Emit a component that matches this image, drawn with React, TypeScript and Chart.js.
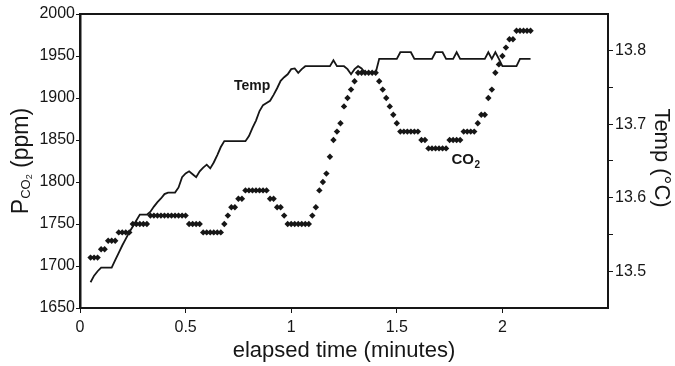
import React, { useEffect, useRef } from 'react';
import { Chart, registerables } from 'chart.js';

Chart.register(...registerables);

// sampling of the recording (one reading per second)
const SAMPLE_START_MIN = 0.05;
const SAMPLE_STEP_MIN = 1 / 60;

// CO2 partial pressure readings (ppm), left axis
const co2Ppm = [
  1710, 1710, 1710, 1720, 1720, 1730, 1730, 1730, 1740, 1740,
  1740, 1740, 1750, 1750, 1750, 1750, 1750, 1760, 1760, 1760,
  1760, 1760, 1760, 1760, 1760, 1760, 1760, 1760, 1750, 1750,
  1750, 1750, 1740, 1740, 1740, 1740, 1740, 1740, 1750, 1760,
  1770, 1770, 1780, 1780, 1790, 1790, 1790, 1790, 1790, 1790,
  1790, 1780, 1780, 1770, 1770, 1760, 1750, 1750, 1750, 1750,
  1750, 1750, 1750, 1760, 1770, 1790, 1800, 1810, 1830, 1850,
  1860, 1870, 1890, 1900, 1910, 1920, 1930, 1930, 1930, 1930,
  1930, 1930, 1920, 1910, 1900, 1890, 1880, 1870, 1860, 1860,
  1860, 1860, 1860, 1860, 1850, 1850, 1840, 1840, 1840, 1840,
  1840, 1840, 1850, 1850, 1850, 1850, 1860, 1860, 1860, 1860,
  1870, 1880, 1880, 1900, 1910, 1930, 1940, 1950, 1960, 1970,
  1970, 1980, 1980, 1980, 1980, 1980,
];

// temperature readings (deg C), right axis
const tempC = [
  13.485, 13.494, 13.5, 13.505, 13.505, 13.505, 13.505, 13.515, 13.525, 13.535,
  13.544, 13.553, 13.561, 13.569, 13.577, 13.577, 13.577, 13.581, 13.588, 13.594,
  13.599, 13.605, 13.607, 13.607, 13.607, 13.614, 13.628, 13.633, 13.636, 13.632,
  13.628, 13.636, 13.641, 13.645, 13.64, 13.648, 13.658, 13.669, 13.677, 13.677,
  13.677, 13.677, 13.677, 13.677, 13.677, 13.684, 13.695, 13.705, 13.718, 13.726,
  13.729, 13.732, 13.74, 13.749, 13.759, 13.764, 13.768, 13.775, 13.776, 13.77,
  13.775, 13.779, 13.779, 13.779, 13.779, 13.779, 13.779, 13.779, 13.779, 13.787,
  13.779, 13.779, 13.779, 13.775, 13.768, 13.775, 13.779, 13.776, 13.77, 13.77,
  13.77, 13.77, 13.789, 13.789, 13.789, 13.789, 13.789, 13.789, 13.798, 13.798,
  13.798, 13.798, 13.789, 13.789, 13.789, 13.789, 13.789, 13.789, 13.798, 13.798,
  13.798, 13.789, 13.789, 13.789, 13.798, 13.789, 13.789, 13.789, 13.789, 13.789,
  13.789, 13.789, 13.789, 13.798, 13.789, 13.798, 13.789, 13.779, 13.779, 13.779,
  13.779, 13.779, 13.789, 13.789, 13.789, 13.789,
];

const xTickValues = [0, 0.5, 1, 1.5, 2];
const leftTickValues = [1650, 1700, 1750, 1800, 1850, 1900, 1950, 2000];
const rightTickValues = [13.5, 13.55, 13.6, 13.65, 13.7, 13.75, 13.8];
const rightLabelledTicks = [13.5, 13.6, 13.7, 13.8];

const INK = '#161616';
const FONT = "'Liberation Sans', Arial, Helvetica, sans-serif";

const decorPlugin = {
  id: 'decor',
  afterDraw(chart: any) {
    const { ctx, chartArea: a, scales } = chart;
    ctx.save();
    // top frame line
    ctx.strokeStyle = INK;
    ctx.lineWidth = 2;
    ctx.beginPath();
    ctx.moveTo(a.left - 1, a.top);
    ctx.lineTo(a.right + 1, a.top);
    ctx.stroke();

    ctx.fillStyle = INK;
    // x-axis title
    ctx.font = `22px ${FONT}`;
    ctx.textAlign = 'center';
    ctx.textBaseline = 'middle';
    ctx.fillText('elapsed time (minutes)', (a.left + a.right) / 2, 351);

    // right axis title
    ctx.save();
    ctx.translate(661, (a.top + a.bottom) / 2 - 3);
    ctx.rotate(Math.PI / 2);
    ctx.font = `22px ${FONT}`;
    ctx.textAlign = 'center';
    ctx.textBaseline = 'middle';
    ctx.fillText('Temp (°C)', 0, 0);
    ctx.restore();

    // left axis title with subscript
    const parts = [
      { t: 'P', size: 23, dy: 0 },
      { t: 'CO', size: 13, dy: 2 },
      { t: '2', size: 9, dy: 4 },
      { t: ' (ppm)', size: 23, dy: 0 },
    ];
    ctx.save();
    ctx.translate(28, (a.top + a.bottom) / 2);
    ctx.rotate(-Math.PI / 2);
    ctx.textAlign = 'left';
    ctx.textBaseline = 'alphabetic';
    let total = 0;
    for (const p of parts) {
      ctx.font = `${p.size}px ${FONT}`;
      total += ctx.measureText(p.t).width;
    }
    let cx = -total / 2;
    for (const p of parts) {
      ctx.font = `${p.size}px ${FONT}`;
      ctx.fillText(p.t, cx, p.dy);
      cx += ctx.measureText(p.t).width;
    }
    ctx.restore();

    // series labels
    const xs = scales.x;
    const ys = scales.y;
    ctx.textBaseline = 'middle';
    ctx.textAlign = 'center';
    ctx.font = `bold 14px ${FONT}`;
    ctx.fillText('Temp', xs.getPixelForValue(0.815), ys.getPixelForValue(1914));

    const cxp = xs.getPixelForValue(1.82);
    const cyp = ys.getPixelForValue(1826);
    ctx.textAlign = 'left';
    ctx.font = `bold 15px ${FONT}`;
    ctx.fillText('CO', cxp - 13, cyp);
    const w = ctx.measureText('CO').width;
    ctx.font = `bold 10px ${FONT}`;
    ctx.fillText('2', cxp - 13 + w + 0.5, cyp + 5);
    ctx.restore();
  },
};

export default function App() {
  const ref = useRef<HTMLCanvasElement | null>(null);

  useEffect(() => {
    if (!ref.current) return;
    const co2Points = co2Ppm.map((v, i) => ({ x: SAMPLE_START_MIN + i * SAMPLE_STEP_MIN, y: v }));
    const tempPoints = tempC.map((v, i) => ({ x: SAMPLE_START_MIN + i * SAMPLE_STEP_MIN, y: v }));

    const tickFont = { family: FONT, size: 16 };
    const chart = new Chart(ref.current, {
      type: 'scatter',
      data: {
        datasets: [
          {
            type: 'line',
            label: 'Temp',
            data: tempPoints,
            yAxisID: 'y1',
            borderColor: INK,
            borderWidth: 1.8,
            pointRadius: 0,
            showLine: true,
            tension: 0,
            fill: false,
            order: 2,
          } as any,
          {
            type: 'scatter',
            label: 'CO2',
            data: co2Points,
            yAxisID: 'y',
            pointStyle: 'rectRot',
            pointRadius: 3.2,
            backgroundColor: INK,
            borderColor: INK,
            borderWidth: 0,
            order: 1,
          } as any,
        ],
      },
      options: {
        animation: false,
        responsive: true,
        maintainAspectRatio: false,
        layout: { padding: { top: 14, left: 0, right: 0, bottom: 0 } },
        plugins: { legend: { display: false }, tooltip: { enabled: false } },
        scales: {
          x: {
            type: 'linear',
            min: 0,
            max: 2.5,
            afterBuildTicks: (s: any) => {
              s.ticks = xTickValues.map((v) => ({ value: v }));
            },
            afterFit: (s: any) => {
              s.height = 58;
            },
            ticks: {
              font: tickFont,
              color: INK,
              padding: 5,
              maxRotation: 0,
              autoSkip: false,
              callback: (v: any) => String(v),
            },
            grid: { drawOnChartArea: false, drawTicks: true, tickLength: 5, color: INK, lineWidth: 1 },
            border: { display: true, color: INK, width: 2 },
          },
          y: {
            type: 'linear',
            position: 'left',
            min: 1650,
            max: 2000,
            afterBuildTicks: (s: any) => {
              s.ticks = leftTickValues.map((v) => ({ value: v }));
            },
            afterFit: (s: any) => {
              s.width = 80;
            },
            ticks: {
              font: tickFont,
              color: INK,
              padding: 1,
              autoSkip: false,
              callback: (v: any) => String(v),
            },
            grid: { drawOnChartArea: false, drawTicks: true, tickLength: 4, color: INK, lineWidth: 1 },
            border: { display: true, color: INK, width: 2.5 },
          },
          y1: {
            type: 'linear',
            position: 'right',
            min: 13.45,
            max: 13.85,
            afterBuildTicks: (s: any) => {
              s.ticks = rightTickValues.map((v) => ({ value: v }));
            },
            afterFit: (s: any) => {
              s.width = 67;
            },
            ticks: {
              font: tickFont,
              color: INK,
              padding: 2,
              autoSkip: false,
              callback: (v: any) => {
                const hit = rightLabelledTicks.find((t) => Math.abs(t - v) < 1e-6);
                return hit !== undefined ? hit.toFixed(1) : '';
              },
            },
            grid: { drawOnChartArea: false, drawTicks: true, tickLength: 5, color: INK, lineWidth: 1 },
            border: { display: true, color: INK, width: 2 },
          },
        },
      } as any,
      plugins: [decorPlugin],
    });
    return () => chart.destroy();
  }, []);

  return (
    <div style={{ position: 'fixed', left: 0, top: 0, width: 675, height: 366, background: '#fff' }}>
      <canvas ref={ref} />
    </div>
  );
}
